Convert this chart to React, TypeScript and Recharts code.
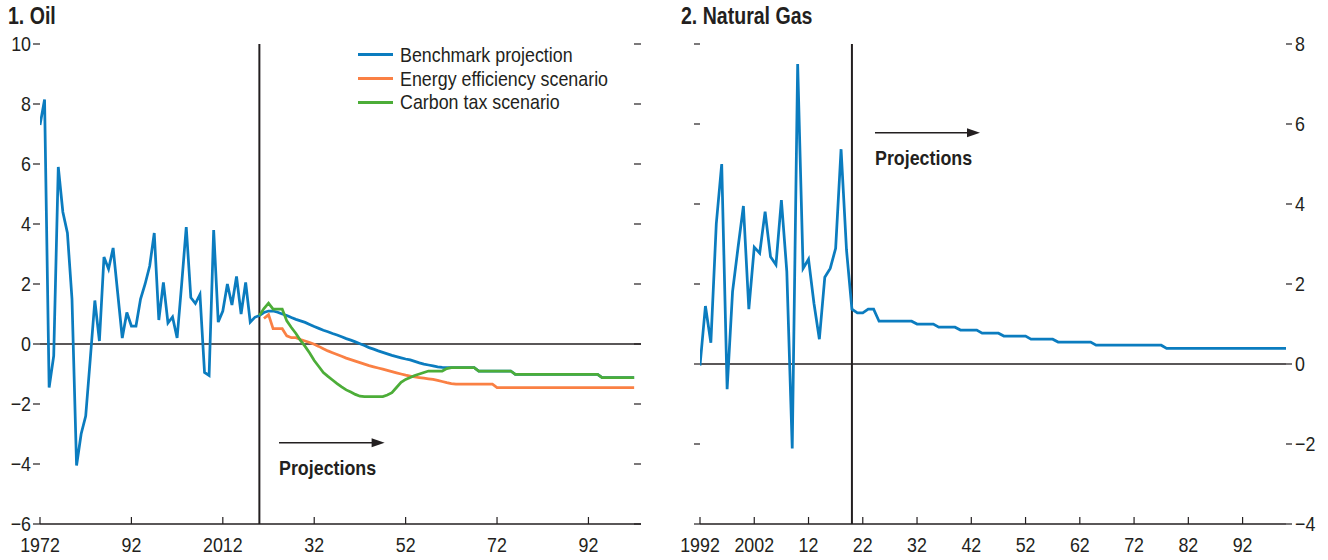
import React from 'react';
import { LineChart, Line, XAxis, YAxis, ReferenceLine, Legend } from 'recharts';

const FONT = "'Liberation Sans', Arimo, Arial, sans-serif";
const SX = 0.85; // horizontal condensing of the text
const INK = '#231f20';
const BLUE = '#0b7cbf';
const ORANGE = '#fa8044';
const GREEN = '#4cad38';

// ---------- Panel 1: Oil ----------
const oilStartYear = 1972;
const oilBenchmark = [
  7.3, 8.15, -1.45, -0.4, 5.9, 4.4, 3.7, 1.5,
  -4.05, -3.0, -2.4, -0.5, 1.45, 0.1, 2.9, 2.5, 3.2, 1.7,
  0.2, 1.05, 0.6, 0.6, 1.5, 2.0, 2.6, 3.7, 0.8, 2.05,
  0.7, 0.9, 0.2, 2.0, 3.9, 1.55, 1.35, 1.65, -0.95, -1.05,
  3.8, 0.73, 1.1, 2.0, 1.3, 2.25, 1.0, 2.05, 0.73, 0.89,
  0.95, 1.05, 1.1, 1.1, 1.06, 1.0, 0.95, 0.88, 0.82, 0.77,
  0.72, 0.65, 0.58, 0.52, 0.46, 0.41, 0.35, 0.3, 0.24, 0.18,
  0.13, 0.07, 0.01, -0.05, -0.12, -0.17, -0.23, -0.28, -0.33, -0.38,
  -0.42, -0.46, -0.5, -0.53, -0.58, -0.63, -0.67, -0.7, -0.73, -0.76,
  -0.78, -0.79, -0.79, -0.79, -0.79, -0.79, -0.79, -0.79, -0.9, -0.9,
  -0.9, -0.9, -0.9, -0.9, -0.9, -0.9, -1.01, -1.01, -1.01, -1.01,
  -1.01, -1.01, -1.01, -1.01, -1.01, -1.01, -1.01, -1.01, -1.01, -1.01,
  -1.01, -1.01, -1.01, -1.01, -1.01, -1.12, -1.12, -1.12, -1.12, -1.12,
  -1.12, -1.12, -1.12,
];
const oilEfficiencyStart = 2021;
const oilEfficiency = [
  0.85, 0.98, 0.51, 0.51, 0.51, 0.27, 0.21, 0.21, 0.15,
  0.1, 0.05, -0.01, -0.08, -0.16, -0.23, -0.29, -0.35, -0.41, -0.47,
  -0.52, -0.57, -0.62, -0.67, -0.72, -0.76, -0.8, -0.84, -0.88, -0.92,
  -0.96, -1.0, -1.04, -1.07, -1.1, -1.12, -1.14, -1.16, -1.18, -1.21,
  -1.25, -1.29, -1.32, -1.34, -1.34, -1.34, -1.34, -1.34, -1.34, -1.34,
  -1.34, -1.34, -1.45, -1.45, -1.45, -1.45, -1.45, -1.45, -1.45, -1.45,
  -1.45, -1.45, -1.45, -1.45, -1.45, -1.45, -1.45, -1.45, -1.45, -1.45,
  -1.45, -1.45, -1.45, -1.45, -1.45, -1.45, -1.45, -1.45, -1.45, -1.45,
  -1.45, -1.45, -1.45,
];
const oilCarbonStart = 2020;
const oilCarbonTax = [
  0.95, 1.18, 1.36, 1.16, 1.16, 1.16, 0.77, 0.55, 0.35, 0.12,
  -0.08, -0.3, -0.55, -0.75, -0.95, -1.08, -1.2, -1.32, -1.43, -1.53,
  -1.6, -1.68, -1.74, -1.75, -1.75, -1.75, -1.75, -1.75, -1.7, -1.62,
  -1.45, -1.28, -1.18, -1.12, -1.05, -1.0, -0.95, -0.9, -0.9, -0.9,
  -0.9, -0.82, -0.79, -0.79, -0.79, -0.79, -0.79, -0.79, -0.9, -0.9,
  -0.9, -0.9, -0.9, -0.9, -0.9, -0.9, -1.01, -1.01, -1.01, -1.01,
  -1.01, -1.01, -1.01, -1.01, -1.01, -1.01, -1.01, -1.01, -1.01, -1.01,
  -1.01, -1.01, -1.01, -1.01, -1.01, -1.12, -1.12, -1.12, -1.12, -1.12,
  -1.12, -1.12, -1.12,
];
const oilSeriesNames = ['Benchmark projection', 'Energy efficiency scenario', 'Carbon tax scenario'];
const oilXDomain = [1972, 2103.5];
const oilXTicks = [1972, 1992, 2012, 2032, 2052, 2072, 2092];
const oilXTickLabels = ['1972', '92', '2012', '32', '52', '72', '92'];
const oilYTicks = [-6, -4, -2, 0, 2, 4, 6, 8, 10];
const oilArrow = { fromYear: 2024.3, toYear: 2047.4, value: -3.29 };

// ---------- Panel 2: Natural Gas ----------
const gasStartYear = 1992;
const gasBenchmark = [
  -0.04, 1.45, 0.53, 3.5, 5.0, -0.63, 1.81, 2.9,
  3.95, 1.37, 2.92, 2.77, 3.81, 2.68, 2.48, 4.1, 2.31, -2.11,
  7.5, 2.39, 2.62, 1.52, 0.62, 2.17, 2.39, 2.89, 5.37, 2.85,
  1.37, 1.28, 1.28, 1.37, 1.37, 1.07, 1.07, 1.07, 1.07, 1.07,
  1.07, 1.07, 1.0, 1.0, 1.0, 1.0, 0.92, 0.92, 0.92, 0.92,
  0.85, 0.85, 0.85, 0.85, 0.77, 0.77, 0.77, 0.77, 0.7, 0.7,
  0.7, 0.7, 0.7, 0.62, 0.62, 0.62, 0.62, 0.62, 0.55, 0.55,
  0.55, 0.55, 0.55, 0.55, 0.55, 0.47, 0.47, 0.47, 0.47, 0.47,
  0.47, 0.47, 0.47, 0.47, 0.47, 0.47, 0.47, 0.47, 0.39, 0.39,
  0.39, 0.39, 0.39, 0.39, 0.39, 0.39, 0.39, 0.39, 0.39, 0.39,
  0.39, 0.39, 0.39, 0.39, 0.39, 0.39, 0.39, 0.39, 0.39, 0.39,
  0.39,
];
const gasXDomain = [1992, 2100];
const gasXTicks = [1992, 2002, 2012, 2022, 2032, 2042, 2052, 2062, 2072, 2082, 2092];
const gasXTickLabels = ['1992', '2002', '12', '22', '32', '42', '52', '62', '72', '82', '92'];
const gasYTicks = [-4, -2, 0, 2, 4, 6, 8];
const gasArrow = { fromYear: 2024.25, toYear: 2043.6, value: 5.78 };

const projectionStart = 2020;

const oilData = oilBenchmark.map((v, i) => {
  const year = oilStartYear + i;
  const e = year - oilEfficiencyStart;
  const c = year - oilCarbonStart;
  return {
    year,
    bench: v,
    eff: e >= 0 && e < oilEfficiency.length ? oilEfficiency[e] : null,
    carbon: c >= 0 && c < oilCarbonTax.length ? oilCarbonTax[c] : null,
  };
});
const gasData = gasBenchmark.map((v, i) => ({ year: gasStartYear + i, bench: v }));

const fmtMinus = (v: number) => (v < 0 ? `\u2212${Math.abs(v)}` : `${v}`);

const CText = ({ x, y, anchor = 'start', size = 21, bold = false, dy, children }: any) => (
  <text
    transform={`translate(${x},${y}) scale(${SX},1)`}
    textAnchor={anchor}
    fontFamily={FONT}
    fontSize={size}
    fontWeight={bold ? 'bold' : 'normal'}
    fill={INK}
    dy={dy}
  >
    {children}
  </text>
);

const makeXTick = (ticks: number[], labels: string[]) => (props: any) => {
  const { x, y, payload } = props;
  const i = ticks.indexOf(payload.value);
  return (
    <g>
      <line x1={x} x2={x} y1={y} y2={y - 7} stroke={INK} strokeWidth={1.2} />
      <CText x={x} y={y + 28} anchor="middle">{i >= 0 ? labels[i] : ''}</CText>
    </g>
  );
};

const YTick = (props: any) => {
  const { x, y, payload, textAnchor } = props;
  return <CText x={x} y={y} anchor={textAnchor} dy="0.355em">{fmtMinus(payload.value)}</CText>;
};

const NoTick = () => <g />;

const ProjectionArrow = (p: any) => {
  const { x1, y1, x2 } = p;
  return (
    <g>
      <line x1={x1} y1={y1} x2={x2 - 10} y2={y1} stroke={INK} strokeWidth={1.6} />
      <polygon points={`${x2},${y1} ${x2 - 13},${y1 - 4.5} ${x2 - 13},${y1 + 4.5}`} fill={INK} />
      <CText x={x1} y={y1 + 32} bold>Projections</CText>
    </g>
  );
};

const renderLegend = (props: any) => {
  const items = ([...(props.payload || [])] as any[]).sort(
    (a, b) => oilSeriesNames.indexOf(a.value) - oilSeriesNames.indexOf(b.value)
  );
  return (
    <div style={{ fontFamily: FONT, fontSize: 21, color: INK }}>
      {items.map((e) => (
        <div key={e.value} style={{ display: 'flex', alignItems: 'center', height: 23.7, whiteSpace: 'nowrap' }}>
          <span style={{ display: 'inline-block', width: 35, height: 3, background: e.color, marginRight: 7, flex: 'none' }} />
          <span style={{ display: 'inline-block', transform: `scaleX(${SX})`, transformOrigin: 'left center', lineHeight: '23.7px' }}>
            {e.value}
          </span>
        </div>
      ))}
    </div>
  );
};

export default function App() {
  return (
    <div style={{ position: 'absolute', left: 0, top: 0, width: 1328, height: 560, background: '#fff', overflow: 'hidden' }}>
      <div style={{ position: 'absolute', left: 0, top: 0 }}>
        <LineChart width={660} height={560} data={oilData} margin={{ top: 44, right: 19, bottom: 0, left: 0 }}>
          <XAxis
            dataKey="year"
            type="number"
            domain={oilXDomain}
            allowDataOverflow
            ticks={oilXTicks}
            interval={0}
            tickSize={0}
            tickMargin={0}
            tickLine={false}
            axisLine={{ stroke: INK, strokeWidth: 1.5 }}
            height={36}
            tick={makeXTick(oilXTicks, oilXTickLabels)}
          />
          <YAxis
            yAxisId="left"
            domain={[-6, 10]}
            allowDataOverflow
            ticks={oilYTicks}
            interval={0}
            width={40}
            axisLine={false}
            tickSize={7}
            tickMargin={2}
            tickLine={{ stroke: INK, strokeWidth: 1.2 }}
            tick={<YTick />}
          />
          <YAxis
            yAxisId="right"
            orientation="right"
            mirror
            domain={[-6, 10]}
            allowDataOverflow
            ticks={oilYTicks}
            interval={0}
            width={7}
            axisLine={false}
            tickSize={7}
            tickLine={{ stroke: INK, strokeWidth: 1.2 }}
            tick={<NoTick />}
          />
          <ReferenceLine yAxisId="left" y={0} stroke={INK} strokeWidth={1.5} />
          <ReferenceLine yAxisId="left" x={projectionStart} stroke={INK} strokeWidth={2} />
          <ReferenceLine
            yAxisId="left"
            segment={[{ x: oilArrow.fromYear, y: oilArrow.value }, { x: oilArrow.toYear, y: oilArrow.value }]}
            shape={ProjectionArrow}
          />
          <Line yAxisId="left" type="linear" dataKey="bench" name={oilSeriesNames[0]} stroke={BLUE} strokeWidth={2.75} dot={false} isAnimationActive={false} />
          <Line yAxisId="left" type="linear" dataKey="eff" name={oilSeriesNames[1]} stroke={ORANGE} strokeWidth={2.75} dot={false} isAnimationActive={false} />
          <Line yAxisId="left" type="linear" dataKey="carbon" name={oilSeriesNames[2]} stroke={GREEN} strokeWidth={2.75} dot={false} isAnimationActive={false} />
          <Legend
            layout="vertical"
            align="center"
            verticalAlign="middle"
            content={renderLegend}
            wrapperStyle={{ top: 43, left: 358, width: 'auto' }}
          />
        </LineChart>
      </div>
      <div style={{ position: 'absolute', left: 660, top: 0 }}>
        <LineChart width={668} height={560} data={gasData} margin={{ top: 44, right: 0, bottom: 0, left: 0 }}>
          <XAxis
            dataKey="year"
            type="number"
            domain={gasXDomain}
            allowDataOverflow
            ticks={gasXTicks}
            interval={0}
            tickSize={0}
            tickMargin={0}
            tickLine={false}
            axisLine={{ stroke: INK, strokeWidth: 1.5 }}
            height={36}
            tick={makeXTick(gasXTicks, gasXTickLabels)}
          />
          <YAxis
            yAxisId="left"
            domain={[-4, 8]}
            allowDataOverflow
            ticks={gasYTicks}
            interval={0}
            width={40}
            axisLine={false}
            tickSize={6}
            tickLine={{ stroke: INK, strokeWidth: 1.2 }}
            tick={<NoTick />}
          />
          <YAxis
            yAxisId="right"
            orientation="right"
            domain={[-4, 8]}
            allowDataOverflow
            ticks={gasYTicks}
            interval={0}
            width={42}
            axisLine={false}
            tickSize={6}
            tickMargin={3}
            tickLine={{ stroke: INK, strokeWidth: 1.2 }}
            tick={<YTick />}
          />
          <ReferenceLine yAxisId="right" y={0} stroke={INK} strokeWidth={1.5} />
          <ReferenceLine yAxisId="right" x={projectionStart} stroke={INK} strokeWidth={2} />
          <ReferenceLine
            yAxisId="right"
            segment={[{ x: gasArrow.fromYear, y: gasArrow.value }, { x: gasArrow.toYear, y: gasArrow.value }]}
            shape={ProjectionArrow}
          />
          <Line yAxisId="right" type="linear" dataKey="bench" name="Benchmark projection" stroke={BLUE} strokeWidth={2.75} dot={false} isAnimationActive={false} />
        </LineChart>
      </div>
      <svg style={{ position: 'absolute', left: 0, top: 0, pointerEvents: 'none' }} width={1328} height={560}>
        <CText x={8} y={24} size={23} bold>1. Oil</CText>
        <CText x={681} y={24} size={23} bold>2. Natural Gas</CText>
      </svg>
    </div>
  );
}
